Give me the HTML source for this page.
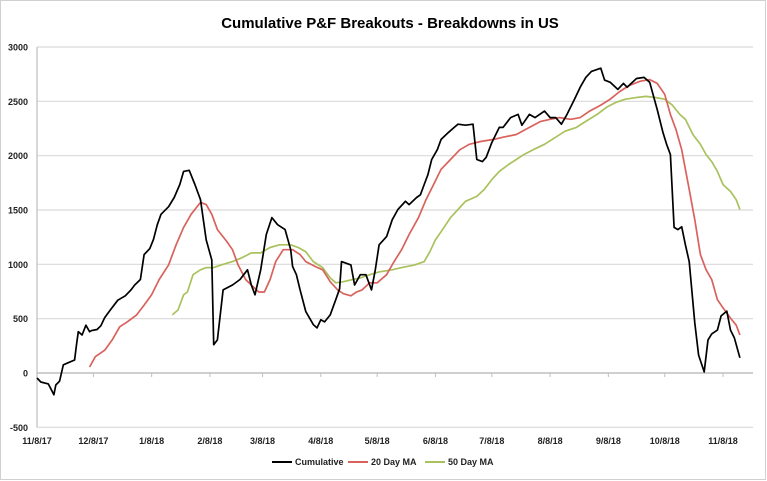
<!DOCTYPE html>
<html><head><meta charset="utf-8"><style>
body{margin:0;background:#fff;font-family:"Liberation Sans",sans-serif}
svg{display:block}
</style></head><body>
<svg id="chart" width="767" height="481">
<rect x="0.5" y="0.5" width="765" height="479" fill="#fff" stroke="#d0d0d0"/>
<text x="390" y="28" text-anchor="middle" font-size="15" font-weight="bold" fill="#000">Cumulative P&amp;F Breakouts - Breakdowns in US</text>
<g id="grid"></g><g id="series"></g><g id="legend"></g>
</svg>
<script>
const yTicks=[-500,0,500,1000,1500,2000,2500,3000];
const xTickLabels=["11/8/17","12/8/17","1/8/18","2/8/18","3/8/18","4/8/18","5/8/18","6/8/18","7/8/18","8/8/18","9/8/18","10/8/18","11/8/18"];
const xTickDays=[0,30,61,92,120,151,181,212,242,273,304,334,365];
const cumDays=[0,2,6,9,10,12,14,16,20,21,22,24,26,28,29,32,34,36,39,43,47,50,52,55,57,60,62,64,66,70,73,76,78,81,84,87,90,93,94,96,99,104,108,112,114,116,119,122,125,128,132,135,136,138,140,143,147,149,151,153,156,159,161,162,167,169,172,175,177,178,180,182,186,189,192,196,198,202,204,206,208,210,213,215,219,222,224,228,232,234,237,239,242,246,248,252,256,258,262,265,270,273,276,279,282,286,289,292,295,300,302,305,309,312,314,319,323,326,330,333,335,337,339,341,343,345,347,350,352,355,357,359,362,364,367,369,371,374];
const cumVals=[-46,-83,-100,-200,-110,-75,75,90,120,260,380,350,440,380,390,400,435,510,580,670,710,765,810,860,1090,1145,1230,1365,1460,1530,1615,1735,1855,1865,1735,1595,1225,1040,260,305,765,810,860,950,810,720,950,1275,1430,1365,1320,1135,980,905,765,565,445,415,490,470,535,675,775,1025,995,810,905,905,810,765,950,1180,1255,1410,1505,1580,1550,1615,1640,1735,1825,1965,2055,2150,2215,2260,2290,2280,2290,1965,1945,1985,2120,2260,2260,2350,2380,2280,2380,2350,2410,2350,2350,2290,2380,2520,2630,2720,2775,2805,2695,2675,2610,2665,2630,2710,2720,2675,2425,2215,2105,2010,1340,1320,1345,1180,1025,460,165,10,305,360,395,525,570,395,325,140];
const ma20Days=[28,31,36,40,44,48,53,57,61,65,70,74,78,82,87,90,93,96,101,104,107,111,114,118,121,124,127,131,136,140,143,148,152,156,160,163,167,170,173,177,181,186,190,194,198,203,207,211,215,220,225,230,236,243,248,255,262,268,273,278,284,289,294,300,305,310,315,321,326,330,334,337,340,343,347,350,353,356,359,362,365,369,372,374];
const ma20Vals=[55,150,210,305,425,470,535,625,720,860,995,1180,1340,1460,1570,1550,1460,1320,1210,1135,995,860,810,745,745,860,1025,1135,1135,1090,1025,980,950,840,765,730,710,745,765,830,830,905,1025,1135,1275,1430,1595,1735,1875,1965,2055,2105,2130,2150,2170,2195,2260,2315,2335,2350,2335,2350,2410,2465,2520,2590,2645,2685,2700,2665,2565,2380,2240,2055,1690,1410,1090,950,860,675,600,505,440,350];
const ma50Days=[72,75,78,80,83,87,90,94,98,104,109,114,119,124,129,135,139,143,147,152,156,159,163,168,172,177,182,189,194,201,206,209,212,215,220,224,228,234,238,242,246,251,255,259,264,270,276,281,287,292,298,303,308,313,319,324,329,334,338,342,345,349,353,356,359,362,365,369,372,374];
const ma50Vals=[535,580,720,745,905,950,970,970,995,1025,1060,1105,1105,1155,1180,1180,1155,1115,1025,970,875,830,840,860,875,905,930,950,970,995,1025,1115,1225,1300,1430,1505,1580,1625,1690,1780,1855,1920,1965,2010,2055,2105,2170,2225,2260,2315,2380,2445,2490,2520,2535,2545,2535,2520,2465,2380,2335,2195,2105,2010,1945,1855,1735,1670,1595,1505];

const NS="http://www.w3.org/2000/svg";
const X0=37,X1=753,PX_PER_DAY=(723-37)/365;
function xScale(d){return X0+d*PX_PER_DAY;}
function yScale(v){return 373-v*(326/3000);}
function mk(tag,attrs,parent){const e=document.createElementNS(NS,tag);for(const k in attrs)e.setAttribute(k,attrs[k]);parent.appendChild(e);return e;}
const grid=document.getElementById('grid');
yTicks.forEach(t=>{
  const y=yScale(t);
  const ln=mk('line',{x1:X0,x2:X1,y1:y,y2:y,stroke:t===0?'#bfbfbf':'#d9d9d9','stroke-width':t===0?1.5:1.2},grid);
  
  
  const tx=mk('text',{x:28,y:y+3.5,'text-anchor':'end','font-size':9,'font-weight':'bold',fill:'#222'},grid);
  tx.textContent=t;
  
  
});
const ax=mk('line',{x1:X0,x2:X0,y1:yScale(3000),y2:yScale(-500),stroke:'#bfbfbf','stroke-width':1.2},grid);


xTickDays.forEach((d,i)=>{
  const x=xScale(d);
  const tk=mk('line',{x1:x,x2:x,y1:373,y2:377,stroke:'#bfbfbf'},grid);
  
  
  const tx=mk('text',{x:x,y:444,'text-anchor':'middle','font-size':9,'font-weight':'bold',fill:'#222'},grid);
  tx.textContent=xTickLabels[i];
  
  
});
const ser=document.getElementById('series');
function line(days,vals,color,name){
  const pts=days.map((d,i)=>xScale(d).toFixed(1)+','+yScale(vals[i]).toFixed(1)).join(' ');
  const p=mk('polyline',{points:pts,fill:'none',stroke:color,'stroke-width':1.7,'stroke-linejoin':'round'},ser);
  
  
}
line(ma50Days,ma50Vals,'#a9c25d','ma50-line');
line(ma20Days,ma20Vals,'#d9625c','ma20-line');
line(cumDays,cumVals,'#000','cumulative-line');
const leg=document.getElementById('legend');
[['Cumulative','#000',272],['20 Day MA','#d9625c',348],['50 Day MA','#a9c25d',425]].forEach(([lab,c,x])=>{
  const l=mk('line',{x1:x,x2:x+20,y1:462,y2:462,stroke:c,'stroke-width':2},leg);
  
  
  const t=mk('text',{x:x+23,y:465,'font-size':9,'font-weight':'bold',fill:'#222'},leg);
  t.textContent=lab;
  
  
});
</script>
</body></html>
